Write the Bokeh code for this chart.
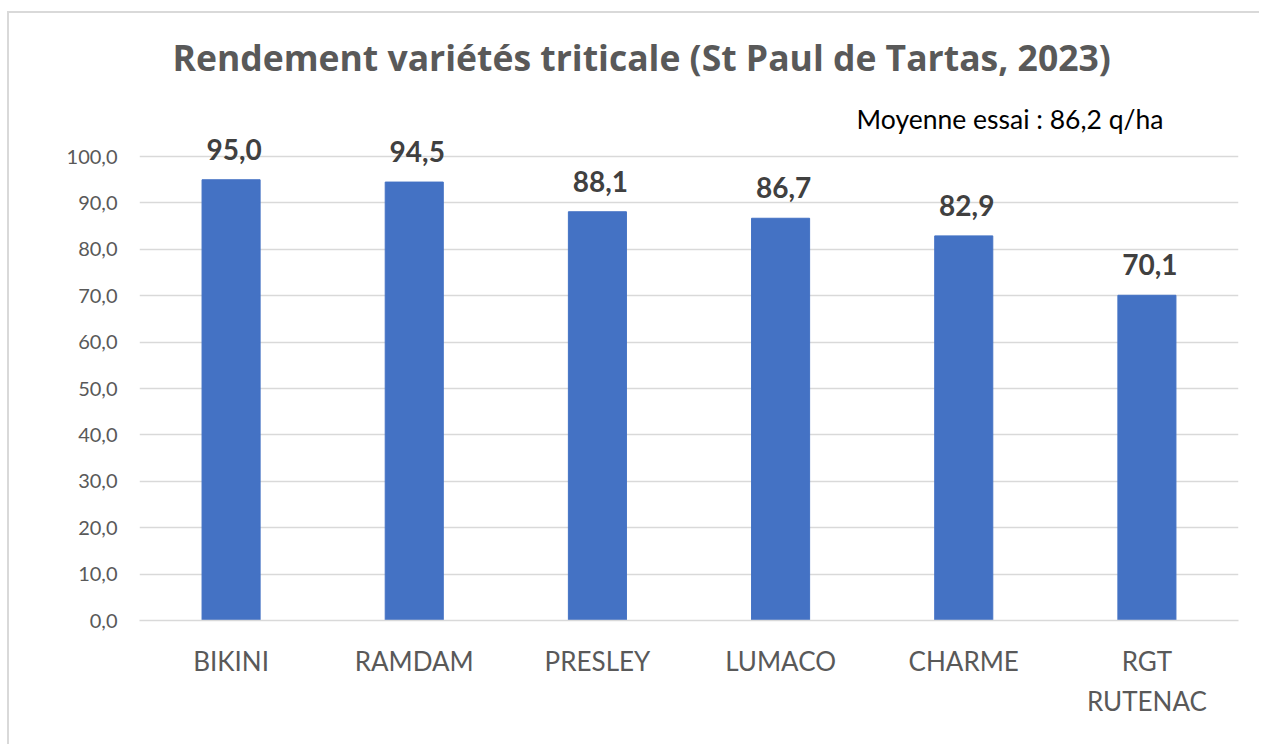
from bokeh.plotting import figure
from bokeh.models import ColumnDataSource, FixedTicker, LabelSet, Label, FactorRange
from bokeh.core.properties import value
from bokeh.embed import file_html
from bokeh.resources import INLINE

# ---- data ----
varieties = ["BIKINI", "RAMDAM", "PRESLEY", "LUMACO", "CHARME", "RGT\nRUTENAC"]
yields = [95.0, 94.5, 88.1, 86.7, 82.9, 70.1]
yield_labels = [f"{v:.1f}".replace(".", ",") for v in yields]
mean_yield = 86.2
mean_text = "Moyenne essai : " + f"{mean_yield:.1f}".replace(".", ",") + " q/ha"
y_ticks = [0, 10, 20, 30, 40, 50, 60, 70, 80, 90, 100]
y_tick_labels = [f"{t:.1f}".replace(".", ",") for t in y_ticks]
title_text = "Rendement variétés triticale (St Paul de Tartas, 2023)"

FONT = "Lato"
BAR = "#4472C4"
GRID = "#d9d9d9"

src = ColumnDataSource(dict(x=varieties, top=yields, lab=yield_labels))

p = figure(
    x_range=FactorRange(factors=varieties),
    y_range=(0, 115.1),
    width=1252, height=733,
    output_backend="svg", toolbar_location=None,
    min_border_left=130, min_border_right=23, min_border_bottom=126, min_border_top=73,
    title=title_text,
)
p.styles = {"margin-left": "7px", "margin-top": "11px",
            "border-left": "2px solid #d9d9d9", "border-top": "2px solid #d9d9d9"}
p.outline_line_color = None
p.background_fill_color = "white"
p.border_fill_color = "white"

p.title.text_font = "Open Sans"
p.title.text_font_size = "35.5px"
p.title.text_font_style = "bold"
p.title.text_color = "#595959"
p.title.align = "left"
p.title.offset = 33
p.title.standoff = 11

p.vbar(x="x", top="top", width=0.317, source=src, fill_color=BAR, line_color=BAR)

labels = LabelSet(x="x", y="top", text="lab", source=src, y_offset=20, x_offset=3,
                  text_align="center", text_baseline="alphabetic",
                  text_font=value(FONT), text_font_size=value("28px"),
                  text_font_style="bold", text_color="#404040")
p.add_layout(labels)

mean_label = Label(x=5.59, y=108.2, text=mean_text, text_align="right",
                   text_baseline="alphabetic", text_font=FONT,
                   text_font_size="26.5px", text_color="black")
p.add_layout(mean_label)

# y axis
p.yaxis.ticker = FixedTicker(ticks=y_ticks)
p.yaxis.major_label_overrides = {t: l for t, l in zip(y_ticks, y_tick_labels)}
p.yaxis.axis_line_color = None
p.yaxis.major_tick_line_color = None
p.yaxis.minor_tick_line_color = None
p.yaxis.major_tick_out = 0
p.yaxis.major_label_standoff = 22
p.yaxis.major_label_text_font = FONT
p.yaxis.major_label_text_font_size = "20px"
p.yaxis.major_label_text_color = "#595959"

# x axis
p.xaxis.axis_line_color = GRID
p.xaxis.axis_line_width = 1.5
p.xaxis.major_tick_line_color = None
p.xaxis.minor_tick_line_color = None
p.xaxis.major_tick_out = 0
p.xaxis.major_label_standoff = 24
p.xaxis.major_label_text_font = FONT
p.xaxis.major_label_text_font_size = "26px"
p.xaxis.major_label_text_color = "#595959"
p.xaxis.major_label_text_line_height = 1.25

p.xgrid.grid_line_color = None
p.ygrid.ticker = FixedTicker(ticks=y_ticks)
p.ygrid.grid_line_color = GRID
p.ygrid.grid_line_width = 1.5

open("out.html", "w").write(file_html(p, INLINE))
